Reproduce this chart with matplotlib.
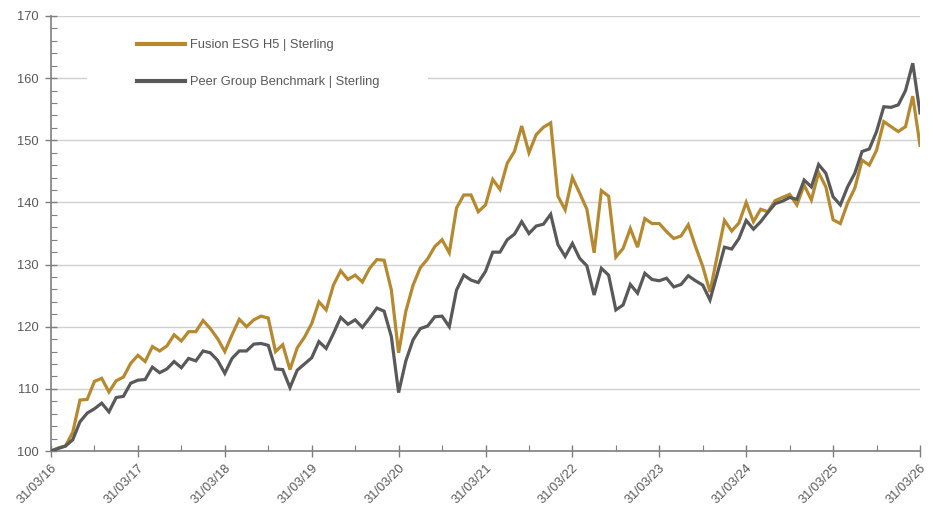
import matplotlib
matplotlib.use("Agg")
import matplotlib.pyplot as plt
from matplotlib.ticker import MultipleLocator, FixedLocator
from matplotlib.patches import Rectangle

plt.rcParams['font.family'] = ['Liberation Sans Narrow', 'Liberation Sans', 'DejaVu Sans']

series_names = ["Fusion ESG H5 | Sterling", "Peer Group Benchmark | Sterling"]
tick_labels = ["31/03/16", "31/03/17", "31/03/18", "31/03/19", "31/03/20", "31/03/21",
               "31/03/22", "31/03/23", "31/03/24", "31/03/25", "31/03/26"]

fusion = [100.0, 100.5, 100.8, 103.0, 108.2, 108.3, 111.2, 111.7, 109.5, 111.3,
          111.9, 114.1, 115.4, 114.4, 116.8, 116.1, 116.9, 118.7, 117.7, 119.2,
          119.2, 121.0, 119.7, 118.1, 116.0, 118.7, 121.2, 120.0, 121.1, 121.7,
          121.4, 116.0, 117.1, 113.1, 116.6, 118.3, 120.5, 124.0, 122.7, 126.7,
          129.0, 127.6, 128.3, 127.2, 129.4, 130.8, 130.7, 125.9, 115.8, 122.5,
          126.7, 129.5, 130.9, 132.9, 134.0, 131.9, 139.1, 141.2, 141.2, 138.5,
          139.6, 143.7, 142.1, 146.3, 148.2, 152.3, 148.0, 150.9, 152.1, 152.8,
          141.0, 138.8, 144.0, 141.5, 138.9, 131.9, 141.9, 141.0, 131.2, 132.6,
          135.8, 132.8, 137.4, 136.6, 136.6, 135.3, 134.2, 134.6, 136.4, 132.9,
          129.7, 125.6, 131.4, 137.1, 135.4, 136.7, 140.0, 136.9, 138.9, 138.5,
          140.3, 140.8, 141.3, 139.6, 142.8, 140.4, 144.8, 142.5, 137.2, 136.6,
          139.9, 142.3, 146.8, 146.0, 148.4, 153.0, 152.2, 151.4, 152.2, 157.1,
          149.2]

peer = [100.0, 100.4, 100.8, 101.8, 104.7, 106.1, 106.8, 107.7, 106.3, 108.6,
        108.8, 110.9, 111.4, 111.5, 113.5, 112.6, 113.2, 114.4, 113.4, 114.9,
        114.5, 116.1, 115.8, 114.6, 112.5, 114.9, 116.1, 116.1, 117.2, 117.3,
        117.0, 113.2, 113.1, 110.2, 113.0, 114.0, 115.0, 117.6, 116.5, 118.9,
        121.5, 120.4, 121.1, 119.9, 121.4, 123.0, 122.5, 118.4, 109.4, 114.5,
        117.9, 119.7, 120.1, 121.6, 121.7, 120.0, 125.9, 128.3, 127.5, 127.1,
        128.9, 132.0, 132.0, 134.0, 134.9, 136.9, 135.0, 136.2, 136.5, 138.1,
        133.2, 131.3, 133.4, 131.0, 129.8, 125.1, 129.4, 128.3, 122.7, 123.5,
        126.8, 125.4, 128.6, 127.6, 127.4, 127.8, 126.4, 126.8, 128.2, 127.4,
        126.7, 124.3, 128.5, 132.8, 132.5, 134.2, 137.1, 135.7, 136.9, 138.4,
        139.8, 140.2, 140.8, 140.5, 143.6, 142.5, 146.1, 144.7, 140.9, 139.6,
        142.5, 144.7, 148.2, 148.6, 151.4, 155.4, 155.3, 155.7, 158.0, 162.4,
        154.4]

gold = "#B6892F"
grey = "#595959"
text_c = "#595959"
axis_c = "#7F7F7F"

fig = plt.figure(figsize=(9.33, 5.08), dpi=100)
ax = fig.add_axes([51/933, 1 - 451/508, (920 - 51)/933, (451 - 16)/508])

months = list(range(len(fusion)))
ax.plot(months, fusion, color=gold, lw=2.3, label=series_names[0], zorder=3,
        solid_joinstyle='miter')
ax.plot(months, peer, color=grey, lw=2.3, label=series_names[1], zorder=3,
        solid_joinstyle='miter')

ax.set_xlim(0, len(fusion) - 1)
ax.set_ylim(100, 170)

ax.xaxis.set_major_locator(FixedLocator([12 * i for i in range(len(tick_labels))]))
ax.set_xticklabels(tick_labels, rotation=45, ha='right', va='top',
                   rotation_mode='anchor', color=text_c, fontsize=9.3)
ax.xaxis.set_minor_locator(FixedLocator([12 * i + 6 for i in range(len(tick_labels) - 1)]))
ax.yaxis.set_major_locator(MultipleLocator(10))
ax.yaxis.set_minor_locator(MultipleLocator(2))
for lab in ax.get_yticklabels():
    lab.set_color(text_c)
    lab.set_fontsize(9.3)

ax.tick_params(axis='x', which='major', direction='inout', length=8, width=1,
               color=axis_c, pad=4)
ax.tick_params(axis='x', which='minor', direction='in', length=4, width=0.8, color=axis_c)
ax.tick_params(axis='y', which='major', direction='inout', length=8, width=1,
               color=axis_c, pad=5)
ax.tick_params(axis='y', which='minor', direction='in', length=4, width=0.8, color=axis_c)

for s in ['top', 'right']:
    ax.spines[s].set_visible(False)
for s in ['left', 'bottom']:
    ax.spines[s].set_color(axis_c)
    ax.spines[s].set_linewidth(1.2)

ax.grid(axis='y', which='major', color='#D0D0D0', lw=1)
ax.set_axisbelow(True)

# white legend backdrop (covers the gridline like the reference)
ax.add_patch(Rectangle(((87 - 51) / 869, (451 - 98) / 435), (428 - 87) / 869, 68 / 435,
                       transform=ax.transAxes, facecolor='white', edgecolor='none', zorder=1))

leg = ax.legend(loc='upper left', bbox_to_anchor=((137 - 51) / 869, (451 - 39) / 435),
                frameon=False, fontsize=9.3, handlelength=3.7, handletextpad=0.4,
                labelspacing=1.96, borderpad=0, borderaxespad=0)
for t in leg.get_texts():
    t.set_color(text_c)
for h in leg.get_lines():
    h.set_linewidth(3)

fig.savefig("out.png", dpi=100)
